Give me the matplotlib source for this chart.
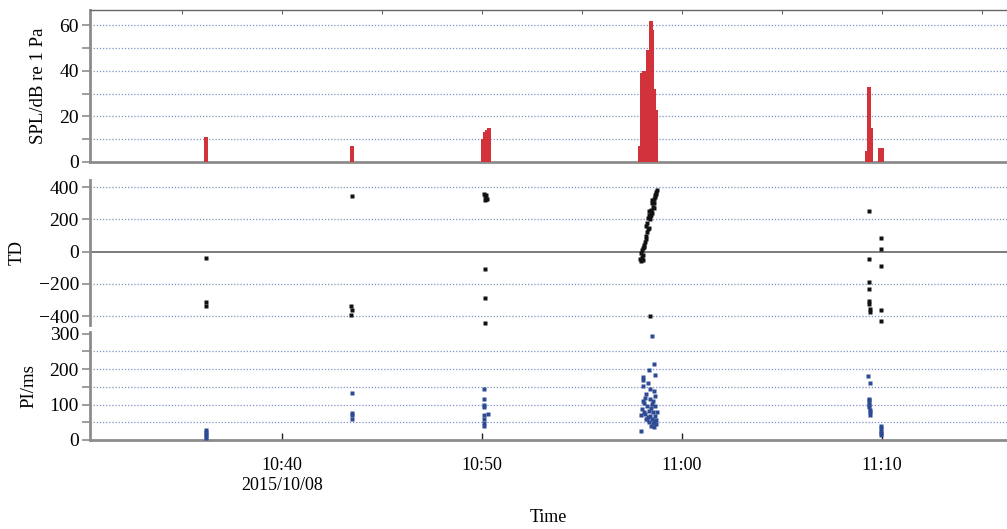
import matplotlib
matplotlib.use("Agg")
import matplotlib.pyplot as plt
import matplotlib.dates as mdates
from matplotlib.ticker import MultipleLocator, FixedLocator, FixedFormatter
import pandas as pd

plt.rcParams['font.family'] = ['Liberation Serif', 'DejaVu Serif']
plt.rcParams['font.size'] = 13

DAY = "2015-10-08 "

# ---- SPL bars (time, dB re 1 Pa) ----
spl_time = ["10:36:12", "10:43:30",
            "10:50:03", "10:50:09", "10:50:15", "10:50:21",
            "10:57:54", "10:58:00", "10:58:06", "10:58:12", "10:58:18", "10:58:22",
            "10:58:27", "10:58:31", "10:58:36", "10:58:42",
            "11:09:15", "11:09:21", "11:09:27", "11:09:54", "11:10:00"]
spl_val = [11, 7,
           10, 13, 14, 15,
           7, 39, 40, 40, 49, 19,
           62, 58, 32, 23,
           5, 33, 15, 6, 6]

# ---- TD points ----
td_time = ["10:36:12", "10:36:12", "10:36:12",
           "10:43:30", "10:43:27", "10:43:30", "10:43:27",
           "10:50:06", "10:50:09", "10:50:12", "10:50:09", "10:50:15", "10:50:12",
           "10:50:09", "10:50:09", "10:50:09",
           "10:57:57", "10:57:54", "10:58:00", "10:58:03", "10:57:57", "10:58:03",
           "10:58:00", "10:58:06", "10:58:06", "10:58:03", "10:58:09", "10:58:12",
           "10:58:12", "10:58:15", "10:58:18", "10:58:12", "10:58:21", "10:58:15",
           "10:58:24", "10:58:18", "10:58:27", "10:58:21", "10:58:24", "10:58:30",
           "10:58:27", "10:58:33", "10:58:30", "10:58:21", "10:58:36", "10:58:30",
           "10:58:27", "10:58:36", "10:58:39", "10:58:39", "10:58:33", "10:58:42",
           "10:58:36", "10:58:42", "10:58:45", "10:58:24",
           "11:09:21", "11:09:21", "11:09:21", "11:09:21", "11:09:21", "11:09:21",
           "11:09:24", "11:09:24",
           "11:09:57", "11:09:57", "11:09:57", "11:09:57", "11:09:57"]
td_val = [-40, -315, -340,
          345, -335, -360, -390,
          360, 345, 330, 320, 325, 350,
          -110, -285, -440,
          -60, -45, -30, -50, -10, -20,
          10, 30, 40, 20, 60, 80,
          100, 120, 140, 160, 150, 180,
          200, 210, 230, 250, 220, 240,
          260, 280, 300, 230, 270, 320,
          250, 300, 340, 350, 310, 360,
          330, 370, 380, -400,
          252, -45, -189, -231, -306, -326,
          -353, -373,
          84, 18, -90, -361, -429]

# ---- PI points (ms) ----
pi_time = ["10:36:12", "10:36:12", "10:36:12", "10:36:12", "10:36:12",
           "10:43:30", "10:43:30", "10:43:30", "10:43:30",
           "10:50:06", "10:50:06", "10:50:06", "10:50:06", "10:50:06", "10:50:06",
           "10:50:06", "10:50:06", "10:50:18",
           "10:58:30", "10:58:36", "10:58:21", "10:58:39", "10:58:03", "10:58:03",
           "10:58:18", "10:58:03", "10:58:24", "10:58:36", "10:58:39", "10:58:09",
           "10:58:24", "10:58:03", "10:58:30", "10:58:15", "10:58:39", "10:58:00",
           "10:58:21", "10:58:33", "10:58:45", "10:58:09", "10:57:57", "10:58:24",
           "10:58:39", "10:58:15", "10:58:30", "10:58:42", "10:58:21", "10:58:33",
           "10:58:42", "10:58:27", "10:58:36", "10:57:57", "10:58:06", "10:58:12",
           "10:58:27", "10:58:18", "10:58:33", "10:58:06", "10:58:36", "10:58:12",
           "11:09:18", "11:09:24", "11:09:21", "11:09:21", "11:09:21", "11:09:21",
           "11:09:21", "11:09:24", "11:09:24", "11:09:24",
           "11:09:57", "11:09:57", "11:09:57", "11:09:57", "11:09:57"]
pi_val = [28, 22, 16, 10, 5,
          133, 77, 70, 58,
          145, 116, 100, 92, 70, 60, 48, 40, 73,
          294, 214, 198, 184, 178, 170,
          160, 153, 144, 139, 125, 119,
          116, 110, 102, 96, 96, 88,
          82, 79, 79, 74, 71, 68,
          68, 59, 59, 57, 51, 48,
          45, 40, 37, 25, 105, 130,
          90, 65, 110, 80, 55, 60,
          181, 160, 117, 112, 105, 99,
          92, 84, 78, 71,
          40, 33, 26, 19, 13]

xtick_times = ["10:40", "10:50", "11:00", "11:10"]
xtick_labels = ["10:40\n2015/10/08", "10:50", "11:00", "11:10"]
x_start, x_end = "10:30:24", "11:16:15"


def to_dt(lst):
    return pd.to_datetime([DAY + t for t in lst])


GRID = "#8090c8"
SPINE = "#8c8c8c"
YT = 14     # y tick label size
LBL = 13.5  # axis label size

fig = plt.figure(figsize=(10.07, 5.29), dpi=100)
L, W = 90 / 1007, 1 - 90 / 1007
ax1 = fig.add_axes([L, 1 - 162 / 529, W, 152 / 529])
ax2 = fig.add_axes([L, 1 - 325 / 529, W, 145 / 529])
ax3 = fig.add_axes([L, 1 - 440 / 529, W, 108 / 529])

xl = (pd.Timestamp(DAY + x_start), pd.Timestamp(DAY + x_end))
for ax in (ax1, ax2, ax3):
    ax.set_xlim(*xl)
    ax.spines["right"].set_visible(False)
    ax.spines["left"].set_color(SPINE)
    ax.spines["left"].set_linewidth(2)
    ax.tick_params(axis="y", which="both", direction="out", color=SPINE,
                   width=1.2, labelsize=YT, pad=2, length=6)
    ax.set_facecolor("none")

# --- top panel ---
ax1.bar(to_dt(spl_time), spl_val, width=9.5 / 86400, color="#d2323a",
        edgecolor="none", zorder=3)
ax1.set_ylim(0, 66.7)
ax1.yaxis.set_major_locator(MultipleLocator(20))
ax1.yaxis.set_minor_locator(MultipleLocator(10))
for v in range(10, 61, 10):
    ax1.axhline(v, color=GRID, lw=0.9, ls=(0, (1, 1.5)), zorder=1)
ax1.spines["bottom"].set_color(SPINE)
ax1.spines["bottom"].set_linewidth(2)
ax1.spines["top"].set_color("#666666")
ax1.spines["top"].set_linewidth(1)
ax1.xaxis.set_major_locator(mdates.MinuteLocator(byminute=range(0, 60, 5)))
ax1.tick_params(axis="x", which="both", bottom=False, top=True, labelbottom=False,
                labeltop=False, direction="in", length=3, color="#666666")
ax1.set_ylabel("SPL/dB re 1 Pa", fontsize=LBL, labelpad=9)

# --- middle panel ---
ax2.plot(to_dt(td_time), td_val, ls="none", marker="s", ms=2.5, color="#111111",
         mec="none", zorder=3)
ax2.set_ylim(-455, 445)
ax2.yaxis.set_major_locator(FixedLocator([-400, -200, 0, 200, 400]))
for v in (-400, -200, 200, 400):
    ax2.axhline(v, color=GRID, lw=0.9, ls=(0, (1, 1.5)), zorder=1)
ax2.axhline(0, color="#666666", lw=1.2, zorder=1)
ax2.spines["top"].set_visible(False)
ax2.spines["bottom"].set_visible(False)
ax2.tick_params(axis="x", which="both", bottom=False, labelbottom=False)
ax2.set_ylabel("TD", fontsize=LBL, labelpad=9)

# --- bottom panel ---
ax3.plot(to_dt(pi_time), pi_val, ls="none", marker="s", ms=2.5, color="#2c4b93",
         mec="none", zorder=3)
ax3.set_ylim(0, 305)
ax3.yaxis.set_major_locator(MultipleLocator(100))
ax3.yaxis.set_minor_locator(MultipleLocator(50))
for v in (50, 100, 150, 200, 250):
    ax3.axhline(v, color=GRID, lw=0.9, ls=(0, (1, 1.5)), zorder=1)
ax3.spines["top"].set_visible(False)
ax3.spines["bottom"].set_color(SPINE)
ax3.spines["bottom"].set_linewidth(2)
tick_pos = mdates.date2num(to_dt(xtick_times))
ax3.xaxis.set_major_locator(FixedLocator(tick_pos))
ax3.xaxis.set_major_formatter(FixedFormatter(xtick_labels))
ax3.tick_params(axis="x", which="major", direction="in", length=5, width=1,
                color="#222222", pad=12, labelsize=13)
for lab in ax3.get_xticklabels():
    lab.set_linespacing(1.25)
ax3.set_ylabel("PI/ms", fontsize=LBL, labelpad=9)
ax3.set_xlabel("Time", fontsize=13, labelpad=11)

fig.savefig("out.png", dpi=100)
